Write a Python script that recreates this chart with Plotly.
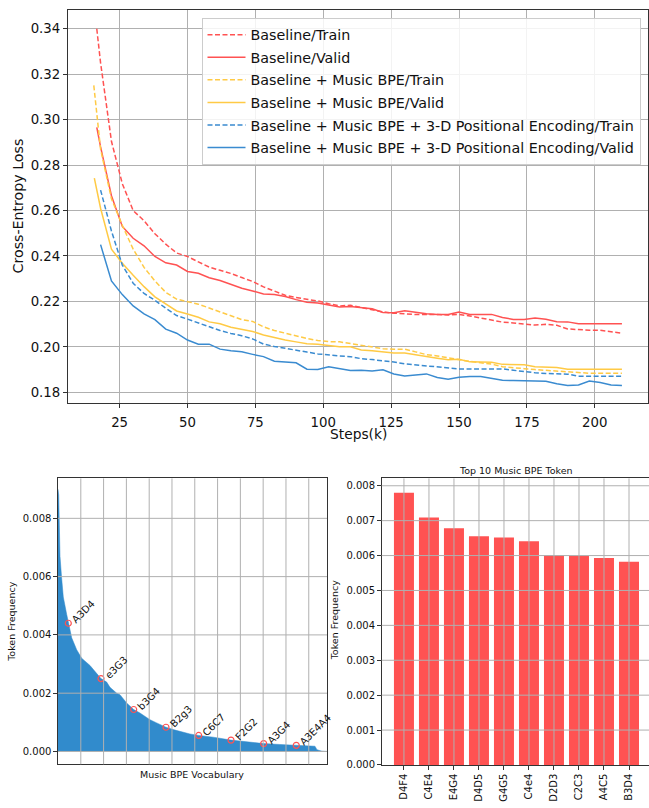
import plotly.graph_objects as go

W, H = 649, 808


def px(x):
    return x / W


def py(y):
    return 1 - y / H


# ---------------- Top chart data ----------------
STEPS = [18, 22, 26, 30, 34, 38, 42, 46, 50, 54, 58, 62, 66, 70, 74, 78, 82, 86, 90, 94,
         98, 102, 106, 110, 114, 118, 122, 126, 130, 134, 138, 142, 146, 150, 154, 158,
         162, 166, 170, 174, 178, 182, 186, 190, 194, 198, 202, 206, 210]

RED_TRAIN_HEAD = [(16.6, 0.3400)]
RED_TRAIN = [0.3250, 0.2905, 0.2718, 0.2600, 0.2555, 0.2498, 0.2452, 0.2413, 0.2398, 0.2374,
             0.2351, 0.2337, 0.2323, 0.2305, 0.2288,
             0.2264, 0.2245, 0.2227, 0.2217, 0.2210, 0.2202, 0.2190, 0.2180, 0.2183, 0.2172,
             0.2163, 0.2154, 0.2148, 0.2146, 0.2142, 0.2142, 0.2143, 0.2140,
             0.2143, 0.2136, 0.2127, 0.2119, 0.2109, 0.2105, 0.2102, 0.2096, 0.2099, 0.2095,
             0.2079, 0.2075, 0.2073, 0.2073, 0.2068, 0.2060]

RED_VALID_HEAD = [(16.6, 0.2966)]
RED_VALID = [0.2880, 0.2665, 0.2530, 0.2478, 0.2445, 0.2398, 0.2370, 0.2360, 0.2332, 0.2324,
             0.2304, 0.2292, 0.2274, 0.2258, 0.2246,
             0.2233, 0.2230, 0.2222, 0.2208, 0.2196, 0.2193, 0.2185, 0.2175, 0.2178, 0.2174,
             0.2168, 0.2151, 0.2150, 0.2159, 0.2151, 0.2146, 0.2143, 0.2143,
             0.2153, 0.2143, 0.2143, 0.2143, 0.2129, 0.2121, 0.2121, 0.2127, 0.2122, 0.2111,
             0.2110, 0.2102, 0.2102, 0.2102, 0.2102, 0.2102]

YEL_TRAIN_HEAD = [(15.5, 0.3151)]
YEL_TRAIN = [0.2870, 0.2652, 0.2535, 0.2430, 0.2350, 0.2290, 0.2240, 0.2210, 0.2200, 0.2188,
             0.2171, 0.2154, 0.2137, 0.2120, 0.2112,
             0.2088, 0.2072, 0.2060, 0.2049, 0.2037, 0.2028, 0.2023, 0.2022, 0.2015, 0.2006,
             0.1998, 0.1992, 0.1990, 0.1990, 0.1978, 0.1966, 0.1960, 0.1952,
             0.1942, 0.1936, 0.1930, 0.1924, 0.1913, 0.1907, 0.1904, 0.1900, 0.1897, 0.1894,
             0.1891, 0.1885, 0.1884, 0.1884, 0.1884, 0.1884]

YEL_VALID_HEAD = [(15.7, 0.2743)]
YEL_VALID = [0.2610, 0.2430, 0.2368, 0.2315, 0.2265, 0.2220, 0.2188, 0.2158, 0.2145, 0.2130,
             0.2110, 0.2102, 0.2086, 0.2076, 0.2068,
             0.2052, 0.2040, 0.2030, 0.2022, 0.2014, 0.2012, 0.2006, 0.2001, 0.2000, 0.1986,
             0.1983, 0.1978, 0.1973, 0.1973, 0.1965, 0.1955, 0.1950, 0.1943,
             0.1945, 0.1934, 0.1932, 0.1932, 0.1923, 0.1922, 0.1921, 0.1913, 0.1910, 0.1909,
             0.1902, 0.1902, 0.1902, 0.1902, 0.1902, 0.1902]

BLU_TRAIN_HEAD = []
BLU_TRAIN = [0.2690, 0.2510, 0.2360, 0.2280, 0.2235, 0.2205, 0.2170, 0.2138, 0.2122, 0.2105,
             0.2088, 0.2072, 0.2059, 0.2049, 0.2035,
             0.2012, 0.2002, 0.1993, 0.1983, 0.1977, 0.1969, 0.1963, 0.1960, 0.1957, 0.1948,
             0.1944, 0.1940, 0.1933, 0.1925, 0.1921, 0.1915, 0.1911, 0.1907,
             0.1903, 0.1903, 0.1903, 0.1903, 0.1903, 0.1897, 0.1891, 0.1886, 0.1883, 0.1882,
             0.1880, 0.1871, 0.1871, 0.1871, 0.1871, 0.1871]

BLU_VALID_HEAD = []
BLU_VALID = [0.2450, 0.2290, 0.2230, 0.2180, 0.2145, 0.2120, 0.2078, 0.2060, 0.2030, 0.2012,
             0.2012, 0.1990, 0.1983, 0.1978, 0.1967,
             0.1957, 0.1937, 0.1932, 0.1930, 0.1902, 0.1900, 0.1912, 0.1904, 0.1896, 0.1897,
             0.1894, 0.1899, 0.1881, 0.1872, 0.1878, 0.1881, 0.1865, 0.1857,
             0.1866, 0.1870, 0.1870, 0.1861, 0.1853, 0.1852, 0.1852, 0.1852, 0.1849, 0.1838,
             0.1830, 0.1832, 0.1850, 0.1843, 0.1832, 0.1830]

SERIES_NAMES = ["Baseline/Train", "Baseline/Valid",
                "Baseline + Music BPE/Train", "Baseline + Music BPE/Valid",
                "Baseline + Music BPE + 3-D Positional Encoding/Train",
                "Baseline + Music BPE + 3-D Positional Encoding/Valid"]

TOP_XTICKS = [25, 50, 75, 100, 125, 150, 175, 200]
TOP_YTICKS = [0.18, 0.20, 0.22, 0.24, 0.26, 0.28, 0.30, 0.32, 0.34]

# ---------------- Bottom-left data ----------------
VOCAB_X = [0, 31, 66, 88, 154, 232, 382, 452, 601, 820, 1039, 1404, 1886, 2136, 2281, 2575,
           2719, 3013, 3320, 3596, 4035, 4329, 4737, 5057, 5789, 6171, 6811, 7588, 8276,
           9022, 9737, 10452, 11197, 11272, 11360, 11579, 11800]
VOCAB_FREQ = [0.0090, 0.0088, 0.0075, 0.0067, 0.0060, 0.0053, 0.0047, 0.0044, 0.0039,
              0.00349, 0.0032, 0.00295, 0.0025, 0.00238, 0.0022, 0.0020, 0.00195, 0.00166,
              0.00144, 0.00132, 0.00109, 0.00098, 0.00083, 0.00075, 0.0006, 0.00055, 0.00049,
              0.00039, 0.00033, 0.00027, 0.00024, 0.00021, 0.00020, 0.00018, 0.00006,
              0.00001, 0.0]
ANNOT_X = [452, 1886, 3320, 4737, 6171, 7588, 9022, 10452]
ANNOT_Y = [0.0044, 0.0025, 0.00144, 0.00083, 0.00055, 0.00039, 0.00027, 0.00021]
ANNOT_LABELS = ["A3D4", "e3G3", "b3G4", "B2g3", "C6C7", "F2G2", "A3G4", "A3E4A4"]
VOCAB_GRID = [1000, 2000, 3000, 4000, 5000, 6000, 7000, 8000, 9000, 10000, 11000]
BL_YTICKS = [0.0, 0.002, 0.004, 0.006, 0.008]

# ---------------- Bottom-right data ----------------
TOP_TOKENS = ["D4F4", "C4E4", "E4G4", "D4D5", "G4G5", "C4e4", "D2D3", "C2C3", "A4C5", "B3D4"]
TOP_FREQ = [0.0078, 0.00709, 0.00678, 0.00655, 0.00652, 0.00641, 0.00601, 0.00599, 0.00593,
            0.00582]
BR_YTICKS = [0.0, 0.001, 0.002, 0.003, 0.004, 0.005, 0.006, 0.007, 0.008]

# ---------------- Styles ----------------
RED = "#ff5252"
YELLOW = "#ffca45"
BLUE = "#3a8bd0"
FILL_BLUE = "#318bcc"
GRID = "#b0b0b0"
SPINE = "#333333"
TOP_FONT = "DejaVu Sans"
MPL_FONT = "DejaVu Sans"

fig = go.Figure()

top_series = [
    (SERIES_NAMES[0], RED, True, RED_TRAIN_HEAD, RED_TRAIN),
    (SERIES_NAMES[1], RED, False, RED_VALID_HEAD, RED_VALID),
    (SERIES_NAMES[2], YELLOW, True, YEL_TRAIN_HEAD, YEL_TRAIN),
    (SERIES_NAMES[3], YELLOW, False, YEL_VALID_HEAD, YEL_VALID),
    (SERIES_NAMES[4], BLUE, True, BLU_TRAIN_HEAD, BLU_TRAIN),
    (SERIES_NAMES[5], BLUE, False, BLU_VALID_HEAD, BLU_VALID),
]
for name, color, dashed, head, vals in top_series:
    xs = [h[0] for h in head] + STEPS
    ys = [h[1] for h in head] + vals
    fig.add_trace(go.Scatter(
        x=xs, y=ys, mode="lines", name=name, legendgroup=name,
        line=dict(color=color, width=1.5, dash="5px,2.5px" if dashed else "solid"),
        xaxis="x", yaxis="y"))

fig.add_trace(go.Scatter(
    x=VOCAB_X, y=VOCAB_FREQ, mode="lines", fill="tozeroy", fillcolor=FILL_BLUE,
    line=dict(color=FILL_BLUE, width=0.5), showlegend=False, xaxis="x2", yaxis="y2",
    hoverinfo="skip"))
fig.add_trace(go.Scatter(
    x=ANNOT_X, y=ANNOT_Y, mode="markers", showlegend=False, xaxis="x2", yaxis="y2",
    marker=dict(symbol="circle-open", size=6, color=RED, line=dict(width=1.2, color=RED))))

fig.add_trace(go.Bar(
    x=TOP_TOKENS, y=TOP_FREQ, width=0.8, marker=dict(color=RED, line=dict(width=0)),
    showlegend=False, xaxis="x3", yaxis="y3"))

shapes = []
for gx in VOCAB_GRID:
    shapes.append(dict(type="line", xref="x2", yref="y2 domain", x0=gx, x1=gx, y0=0, y1=1,
                       line=dict(color=GRID, width=1), layer="above"))
for gy in BL_YTICKS:
    shapes.append(dict(type="line", xref="x2 domain", yref="y2", x0=0, x1=1, y0=gy, y1=gy,
                       line=dict(color=GRID, width=1), layer="above"))
for tok in TOP_TOKENS:
    shapes.append(dict(type="line", xref="x3", yref="y3 domain", x0=tok, x1=tok, y0=0, y1=1,
                       line=dict(color=GRID, width=1), layer="above"))
for gy in BR_YTICKS[1:]:
    shapes.append(dict(type="line", xref="x3 domain", yref="y3", x0=0, x1=1, y0=gy, y1=gy,
                       line=dict(color=GRID, width=1), layer="above"))

annotations = []
for ax_, ay_, lab in zip(ANNOT_X, ANNOT_Y, ANNOT_LABELS):
    annotations.append(dict(x=ax_, y=ay_, xref="x2", yref="y2", text=lab, textangle=-45,
                            showarrow=False, xanchor="left", yanchor="bottom",
                            xshift=-1, yshift=-5,
                            font=dict(family=MPL_FONT, size=10, color="#111111")))

axis_titles = [
    ("Cross-Entropy Loss", 18, 208, -90, TOP_FONT, 14.2),
    ("Steps(k)", 358.5, 437, 0, TOP_FONT, 13.8),
    ("Token Frequency", 11.5, 626, -90, MPL_FONT, 9.5),
    ("Music BPE Vocabulary", 192, 780, 0, MPL_FONT, 9.5),
    ("Token Frequency", 334, 625, -90, MPL_FONT, 9.5),
    ("Top 10 Music BPE Token", 516, 474, 0, MPL_FONT, 9.5),
]
for txt, xx, yy, ang, fam, size in axis_titles:
    annotations.append(dict(x=px(xx), y=py(yy), xref="paper", yref="paper", text=txt,
                            textangle=ang, showarrow=False, xanchor="center",
                            yanchor="middle", font=dict(family=fam, size=size,
                                                        color="#111111")))

common_line = dict(showline=True, linecolor=SPINE, linewidth=1.2, zeroline=False)

fig.update_layout(
    width=W, height=H, margin=dict(l=0, r=0, t=0, b=0),
    paper_bgcolor="white", plot_bgcolor="white",
    showlegend=True,
    legend=dict(x=px(201.5), y=py(18), xanchor="left", yanchor="top",
                bgcolor="rgba(255,255,255,0.85)", bordercolor="#cccccc", borderwidth=1,
                font=dict(family=TOP_FONT, size=14.3, color="#111111"),
                itemwidth=38, tracegroupgap=1),
    xaxis=dict(domain=[px(68), px(648)], range=[6.0, 219.6], tickvals=TOP_XTICKS,
               showgrid=True, gridcolor=GRID, gridwidth=1, ticks="outside", ticklen=4,
               tickcolor=SPINE, mirror=True, anchor="y", ticklabelstandoff=3,
               tickfont=dict(family=TOP_FONT, size=13.3, color="#111111"), **common_line),
    yaxis=dict(domain=[py(406), py(10)], range=[0.1753, 0.3483], tickvals=TOP_YTICKS,
               tickformat=".2f", showgrid=True, gridcolor=GRID, gridwidth=1,
               ticks="outside", ticklen=4, tickcolor=SPINE, mirror=True, anchor="x",
               tickfont=dict(family=TOP_FONT, size=13.3, color="#111111"), **common_line),
    xaxis2=dict(domain=[px(58), px(327)], range=[0, 11800], showgrid=False,
                showticklabels=False, ticks="", mirror=True, anchor="y2", **common_line),
    yaxis2=dict(domain=[py(770), py(482)], range=[-0.00044, 0.00937], tickvals=BL_YTICKS,
                tickformat=".3f", showgrid=False, ticks="outside", ticklen=3.5,
                tickcolor=SPINE, mirror=True, anchor="x2",
                tickfont=dict(family=MPL_FONT, size=10, color="#111111"), **common_line),
    xaxis3=dict(domain=[px(381.7), 1.0], range=[-0.89, 9.8], showgrid=False,
                tickangle=-90, ticks="outside", ticklen=3.5, tickcolor=SPINE,
                mirror=True, anchor="y3",
                tickfont=dict(family=MPL_FONT, size=10, color="#111111"), **common_line),
    yaxis3=dict(domain=[py(770.7), py(482)], range=[0, 0.00821], tickvals=BR_YTICKS,
                tickformat=".3f", showgrid=False, ticks="outside", ticklen=3.5,
                tickcolor=SPINE, mirror=False, anchor="x3",
                tickfont=dict(family=MPL_FONT, size=10, color="#111111"), **common_line),
    shapes=shapes,
    annotations=annotations,
)

fig.write_html("out.html", config={"displayModeBar": False},
               post_script="document.body.style.margin='0';document.body.style.padding='0';")
